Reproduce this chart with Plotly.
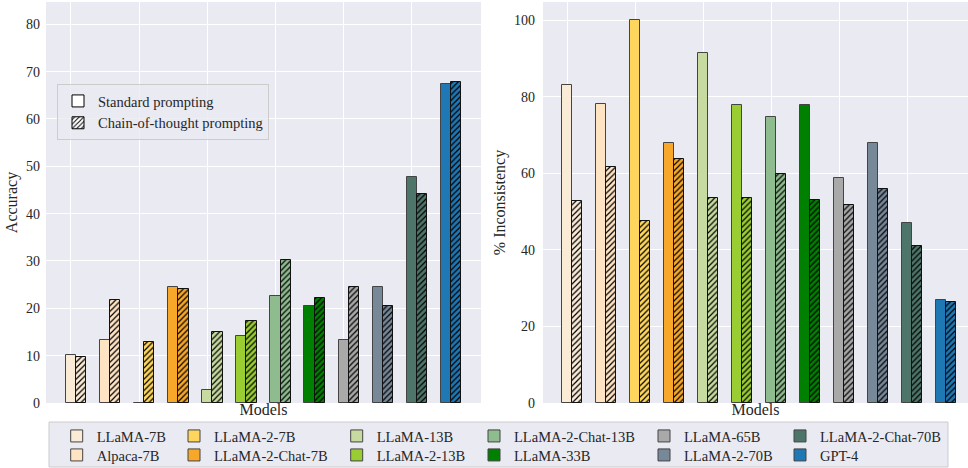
import numpy as np
import plotly.graph_objects as go

models = ["LLaMA-7B", "Alpaca-7B", "LLaMA-2-7B", "LLaMA-2-Chat-7B", "LLaMA-13B", "LLaMA-2-13B",
          "LLaMA-2-Chat-13B", "LLaMA-33B", "LLaMA-65B", "LLaMA-2-70B", "LLaMA-2-Chat-70B", "GPT-4"]
colors = ["#FAEBD7", "#FFE4C4", "#FED65D", "#F8A829", "#C7DBA0", "#9ACD32",
          "#8FBC8F", "#008000", "#A9A9A9", "#778899", "#4E7569", "#1F77B4"]
acc_standard = [10.2, 13.3, 0.0, 24.5, 2.7, 14.2, 22.7, 20.5, 13.3, 24.5, 47.7, 67.4]
acc_cot = [9.7, 21.8, 12.9, 24.1, 15.1, 17.3, 30.3, 22.2, 24.5, 20.5, 44.2, 67.9]
inc_standard = [83.0, 78.0, 100.0, 67.9, 91.5, 77.9, 74.8, 77.9, 58.7, 67.9, 47.0, 27.0]
inc_cot = [52.7, 61.7, 47.5, 63.7, 53.4, 53.5, 59.8, 52.9, 51.7, 55.9, 41.0, 26.3]
prompt_labels = ["Standard prompting", "Chain-of-thought prompting"]
acc_ticks = [0, 10, 20, 30, 40, 50, 60, 70, 80]
inc_ticks = [0, 20, 40, 60, 80, 100]

FONT = "Liberation Serif"
BW = 0.3
idx = np.arange(len(models))
pattern = dict(shape="/", size=4, solidity=0.3, fgcolor="black", fgopacity=1, fillmode="overlay")

W, H = 968, 468


def fx(p):
    return p / W


def fy(p):
    return 1 - p / H


fig = go.Figure()
legend_ids = ["legend"] + ["legend%d" % k for k in range(2, len(models) + 1)]

for i, (m, c) in enumerate(zip(models, colors)):
    lg = legend_ids[i]
    for axn, std_vals, cot_vals in (("", acc_standard, acc_cot), ("2", inc_standard, inc_cot)):
        fig.add_trace(go.Bar(
            x=[idx[i]], y=[std_vals[i]], width=BW, name=m,
            marker=dict(color=c, line=dict(color="#444444", width=1)),
            xaxis="x" + axn, yaxis="y" + axn,
            showlegend=(axn == ""), legend=lg, legendgroup=m,
        ))
        fig.add_trace(go.Bar(
            x=[idx[i] + BW], y=[cot_vals[i]], width=BW, name=m,
            marker=dict(color=c, line=dict(color="#111111", width=1),
                        pattern=dict(pattern, bgcolor=c)),
            xaxis="x" + axn, yaxis="y" + axn,
            showlegend=False, legendgroup=m,
        ))

# prompting legend (dummy entries)
PL = "legend%d" % (len(models) + 1)
fig.add_trace(go.Bar(x=[None], y=[None], name=prompt_labels[0],
                     marker=dict(color="white", line=dict(color="black", width=1)),
                     legend=PL, showlegend=True))
fig.add_trace(go.Bar(x=[None], y=[None], name=prompt_labels[1],
                     marker=dict(color="white", line=dict(color="black", width=1),
                                 pattern=dict(pattern, bgcolor="white")),
                     legend=PL, showlegend=True))

axis_common = dict(showgrid=True, gridcolor="white", gridwidth=1, zeroline=False,
                   showline=False, ticks="", automargin=False)
xtick = list(range(0, 12, 2))
ydom = [fy(403), fy(2)]
fig.update_layout(
    width=W, height=H,
    margin=dict(l=0, r=0, t=0, b=0, autoexpand=False),
    paper_bgcolor="white", plot_bgcolor="rgba(0,0,0,0)",
    barmode="overlay", bargap=0,
    font=dict(family=FONT, size=14, color="#262626"),
    xaxis=dict(axis_common, domain=[fx(46), fx(481)], range=[-0.73, 12.03], tickvals=xtick,
               showticklabels=False, anchor="y",
               title=dict(text="Models", font=dict(size=16), standoff=0)),
    yaxis=dict(axis_common, domain=ydom, range=[0, 84.7], tickvals=acc_ticks,
               ticklabelstandoff=5, anchor="x",
               title=dict(text="Accuracy", font=dict(size=16), standoff=4)),
    xaxis2=dict(axis_common, domain=[fx(543), 1], range=[-0.71, 11.79], tickvals=xtick,
                showticklabels=False, anchor="y2",
                title=dict(text="Models", font=dict(size=16), standoff=0)),
    yaxis2=dict(axis_common, domain=ydom, range=[0, 104.7], tickvals=inc_ticks,
                anchor="x2", ticklabelstandoff=7,
                title=dict(text="% Inconsistency", font=dict(size=16), standoff=4)),
    shapes=[
        dict(type="rect", xref="x domain", yref="y domain", x0=0, x1=1, y0=0, y1=1,
             fillcolor="#EAEAF2", line=dict(width=0), layer="below"),
        dict(type="rect", xref="x2 domain", yref="y2 domain", x0=0, x1=1, y0=0, y1=1,
             fillcolor="#EAEAF2", line=dict(width=0), layer="below"),
        dict(type="rect", xref="paper", yref="paper",
             x0=fx(49), x1=fx(948), y0=fy(467), y1=fy(422),
             fillcolor="#EAEAF2", line=dict(color="#CCCCCC", width=1), layer="below"),
    ],
)

legend_text_x = [96.7, 214, 376.7, 514, 684, 820]
row_y = [436, 455]
for i, lg in enumerate(legend_ids):
    tx = legend_text_x[i // 2]
    ty = row_y[i % 2]
    fig.update_layout({lg: dict(x=fx(tx - 40), y=fy(ty), xanchor="left", yanchor="middle",
                                orientation="v", bgcolor="rgba(0,0,0,0)", borderwidth=0,
                                font=dict(family=FONT, size=14.5, color="#262626"),
                                tracegroupgap=0, itemclick=False, itemdoubleclick=False)})

fig.update_layout({PL: dict(x=fx(57), y=fy(84), xanchor="left", yanchor="top",
                            orientation="v", bgcolor="rgba(234,234,242,0.8)",
                            bordercolor="#CCCCCC", borderwidth=1,
                            font=dict(family=FONT, size=14.5, color="#262626"),
                            tracegroupgap=0)})

fig.write_html("out.html", config={"displayModeBar": False},
               post_script="document.body.style.margin='0';document.body.style.overflow='hidden';")
